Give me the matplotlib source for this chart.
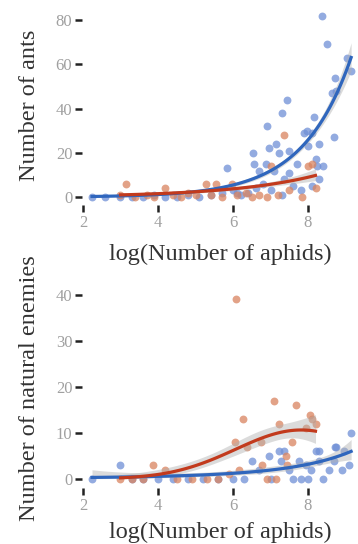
import numpy as np
import matplotlib
matplotlib.use("Agg")
import matplotlib.pyplot as plt

# ---- data ----
# top panel: number of ants vs log(number of aphids)
ants_blue_x = [2.24, 2.6, 3.0, 3.3, 3.6, 3.9, 4.2, 4.5, 4.8, 5.1, 5.4, 5.7, 5.84, 6.0, 6.1,
               6.2, 6.4, 6.53, 6.56, 6.6, 6.7, 6.8, 6.88, 6.91, 6.96, 7.0, 7.1, 7.15, 7.23,
               7.3, 7.3, 7.36, 7.45, 7.5, 7.5, 7.6, 7.7, 7.8, 7.9, 7.98, 8.0, 8.1, 8.1, 8.16,
               8.2, 8.25, 8.3, 8.3, 8.37, 8.4, 8.5, 8.64, 8.69, 8.72, 8.75, 9.04, 9.15]
ants_blue_y = [0, 0, 0, 0, 0, 1, 0, 0, 1, 0, 1, 2, 13, 3, 2,
               1, 2, 20, 15, 4, 12, 6, 15, 32, 22, 3, 12, 24, 20,
               38, 1, 8, 44, 21, 11, 5, 15, 3, 29, 30, 23, 29, 5, 36,
               17, 14, 24, 8, 82, 14, 69, 47, 27, 54, 48, 63, 57]

ants_red_x = [3.0, 3.14, 3.4, 3.7, 3.9, 4.2, 4.4, 4.6, 4.8, 5.0, 5.28, 5.4, 5.54, 5.7, 5.97,
              6.1, 6.35, 6.5, 6.7, 6.9, 7.0, 7.2, 7.36, 7.5, 7.84, 8.0, 8.1, 8.2]
ants_red_y = [1, 6, 0, 1, 0, 4, 1, 0, 2, 1, 6, 1, 6, 0, 6,
              1, 2, 0, 1, 0, 14, 1, 28, 3, 0, 14, 15, 4]

# bottom panel: number of natural enemies vs log(number of aphids)
en_blue_x = [2.24, 3.0, 3.3, 3.6, 4.0, 4.4, 4.8, 5.2, 5.6, 6.0, 6.3, 6.5, 6.7, 6.96, 7.0,
             7.23, 7.28, 7.36, 7.5, 7.6, 7.76, 7.8, 7.95, 8.0, 8.07, 8.2, 8.29, 8.3, 8.4,
             8.56, 8.7, 8.72, 8.75, 8.9, 8.96, 9.09, 9.15]
en_blue_y = [0, 3, 0, 0, 0, 0, 0, 0, 0, 0, 0, 4, 2, 5, 0,
             6, 4, 6, 2, 0, 4, 0, 3, 0, 2, 6, 6, 4, 0,
             2, 4, 7, 7, 2, 6, 3, 10]

en_red_x = [3.0, 3.3, 3.6, 3.87, 4.2, 4.5, 4.9, 5.3, 5.6, 5.9, 6.06, 6.08, 6.16, 6.27, 6.38,
            6.75, 6.78, 6.9, 7.09, 7.15, 7.23, 7.4, 7.43, 7.57, 7.68, 7.95, 8.05, 8.1, 8.2]
en_red_y = [0, 0, 0, 3, 2, 0, 0, 0, 0, 1, 8, 39, 2, 13, 7,
            8, 3, 0, 17, 0, 12, 5, 3, 8, 16, 11, 14, 13, 12]

ticks_x = [2, 4, 6, 8]
ticks_top = [0, 20, 40, 60, 80]
ticks_bot = [0, 10, 20, 30, 40]

blue_pt, blue_ln = "#6f8fd6", "#2f66bd"
red_pt, red_ln = "#d9835f", "#c23a1d"
serif = ["Liberation Serif", "DejaVu Serif"]


def poisson_smooth(x, y, deg, n=100):
    # poisson glm (log link) fitted by IRLS, with 95% band
    x = np.asarray(x, float)
    y = np.asarray(y, float)
    xm, xs = x.mean(), x.std()
    X = np.vander((x - xm) / xs, deg + 1)
    beta = np.zeros(deg + 1)
    beta[-1] = np.log(y.mean())
    for _ in range(100):
        eta = X @ beta
        mu = np.exp(eta)
        z = eta + (y - mu) / mu
        XtW = X.T * mu
        beta = np.linalg.solve(XtW @ X, XtW @ z)
    mu = np.exp(X @ beta)
    cov = np.linalg.inv((X.T * mu) @ X)
    g = np.linspace(x.min(), x.max(), n)
    G = np.vander((g - xm) / xs, deg + 1)
    eta = G @ beta
    se = np.sqrt(np.sum((G @ cov) * G, axis=1))
    return g, np.exp(eta), np.exp(eta - 1.96 * se), np.exp(eta + 1.96 * se)


fig = plt.figure(figsize=(3.58, 5.44), dpi=100)
ax1 = fig.add_axes([0.229, 0.623, 0.771, 0.366])
ax2 = fig.add_axes([0.229, 0.103, 0.771, 0.366])

panels = [
    (ax1, ants_blue_x, ants_blue_y, ants_red_x, ants_red_y, 1, 1,
     (-3.6, 86.3), ticks_top, "Number of ants", 9.5),
    (ax2, en_blue_x, en_blue_y, en_red_x, en_red_y, 2, 2,
     (-1.96, 41.3), ticks_bot, "Number of natural enemies", 5.5),
]

for ax, bx, by, rx, ry, db, dr, ylim, yt, ylab, lp in panels:
    ax.scatter(bx, by, s=32, color=blue_pt, alpha=0.75, linewidths=0, zorder=2)
    ax.scatter(rx, ry, s=32, color=red_pt, alpha=0.75, linewidths=0, zorder=2)
    for xx, yy, d, c, z in [(bx, by, db, blue_ln, 4), (rx, ry, dr, red_ln, 5)]:
        g, f, lo, hi = poisson_smooth(xx, yy, d)
        ax.fill_between(g, lo, hi, color="#b0b0b0", alpha=0.45, linewidth=0, zorder=3)
        ax.plot(g, f, color=c, lw=2.3, zorder=z)
    ax.set_xlim(1.973, 9.333)
    ax.set_ylim(*ylim)
    ax.set_xticks(ticks_x)
    ax.set_yticks(yt)
    for s in ax.spines.values():
        s.set_visible(False)
    ax.tick_params(direction="out", length=5, width=1.8, color="#222222",
                   labelcolor="#a0a0a0", labelsize=12, pad=2)
    for lab in ax.get_xticklabels() + ax.get_yticklabels():
        lab.set_family(serif)
    ax.set_xlabel("log(Number of aphids)", family=serif, fontsize=17.5, color="#333333", labelpad=lp)
    ax.set_ylabel(ylab, family=serif, fontsize=17.5, color="#333333")
    ax.yaxis.set_label_coords(-0.152, 0.5)
    ax.set_facecolor("white")

fig.savefig("out.png", dpi=100)
